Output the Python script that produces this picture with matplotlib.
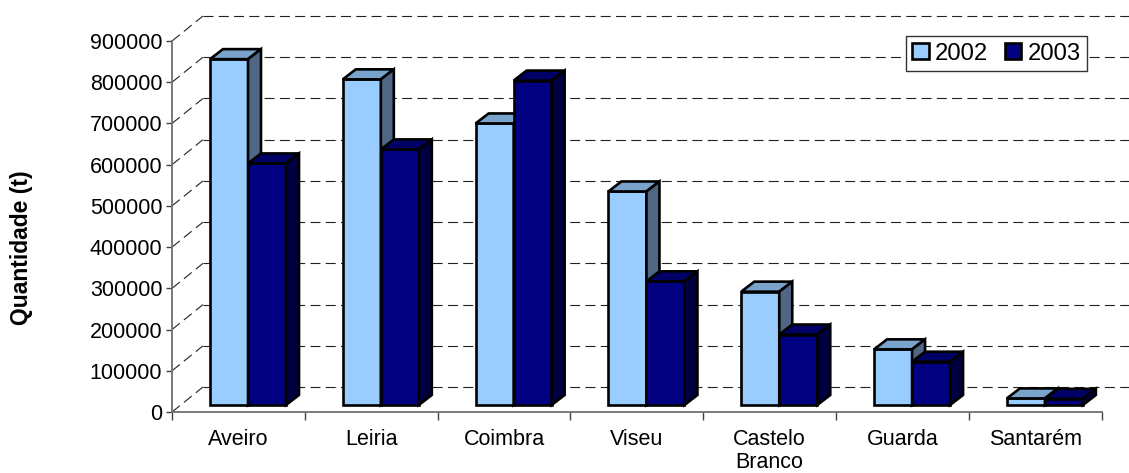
import matplotlib
matplotlib.use("Agg")
import matplotlib.pyplot as plt
from matplotlib.patches import Patch, Polygon

plt.rcParams['font.family'] = ['Liberation Sans', 'DejaVu Sans']
plt.rcParams['lines.scale_dashes'] = False

# values
distritos = ['Aveiro', 'Leiria', 'Coimbra', 'Viseu', 'Castelo\nBranco', 'Guarda', 'Santarém']
q_2002 = [839000, 790000, 683000, 518000, 275000, 135000, 16000]
q_2003 = [586000, 620000, 787000, 300000, 171000, 105000, 15000]
y_ticks = [0, 100000, 200000, 300000, 400000, 500000, 600000, 700000, 800000, 900000]

W, H = 1129, 473
x0, x1 = 172, 1101.7     # y axis / end of x axis, px
y0, y1 = 412, 41         # value 0 / value 900000, px

fig = plt.figure(figsize=(W / 100, H / 100), dpi=100)
ax = fig.add_axes([x0 / W, 1 - y0 / H, (x1 - x0) / W, (y0 - y1) / H])
ax.set_xlim(0, 7)
ax.set_ylim(0, 900000)

# px to data units
px_x = 7 / (x1 - x0)
px_y = 900000 / (y0 - y1)

# back wall of the fake 3d box
wall_dx, wall_dy = 31 * px_x, 25 * px_y
for v in y_ticks:
    ax.plot([wall_dx, 7 + wall_dx], [v + wall_dy, v + wall_dy], color='#222222', lw=0.8,
            ls=(0, (7.2, 3.8)), clip_on=False, zorder=1)
    ax.plot([0, wall_dx], [v, v + wall_dy], color='#222222', lw=0.8,
            ls=(0, (7.2, 3.8)), clip_on=False, zorder=1)

# bars
bar_w = 38 * px_x
depth_x, depth_y = 13 * px_x, 10 * px_y
base_x, base_y = 38 * px_x, 7 * px_y
edge = 1.9


def draw_bar(left, value, front, top, side, z):
    right = left + bar_w
    h = base_y + value
    ax.bar(left, value, width=bar_w, bottom=base_y, align='edge', color=front,
           edgecolor='black', linewidth=edge, zorder=z, clip_on=False)
    ax.add_patch(Polygon([(left, h), (right, h), (right + depth_x, h + depth_y), (left + depth_x, h + depth_y)],
                         facecolor=top, edgecolor='black', linewidth=edge, zorder=z, clip_on=False))
    ax.add_patch(Polygon([(right, base_y), (right + depth_x, base_y + depth_y), (right + depth_x, h + depth_y), (right, h)],
                         facecolor=side, edgecolor='black', linewidth=edge, zorder=z, clip_on=False))


z = 3
for i in range(len(distritos)):
    left = i + base_x
    draw_bar(left, q_2002[i], '#99CCFF', '#7AA3CC', '#4F6685', z)
    draw_bar(left + bar_w, q_2003[i], '#000080', '#000066', '#000040', z + 1)
    z += 2

for s in ['top', 'right']:
    ax.spines[s].set_visible(False)
for s in ['left', 'bottom']:
    ax.spines[s].set_color('#707070')
    ax.spines[s].set_linewidth(1.3)

ax.set_yticks(y_ticks)
ax.set_yticklabels([str(v) for v in y_ticks], fontsize=15.5)
ax.set_xticks(range(8))
ax.set_xticklabels([])
ax.set_xticks([i + 0.5 for i in range(7)], minor=True)
ax.set_xticklabels(distritos, minor=True, fontsize=15.5, linespacing=1.15)
ax.tick_params(axis='y', length=4, width=1, color='#404040', pad=3)
ax.tick_params(axis='x', which='major', length=6, width=1, color='#404040')
ax.tick_params(axis='x', which='minor', length=0, pad=12)

fig.text(22 / W, 1 - 248 / H, 'Quantidade (t)', rotation=90, fontsize=16.5, fontweight='bold',
         ha='center', va='center')

handles = [Patch(facecolor='#99CCFF', edgecolor='black', linewidth=1.9, label='2002'),
           Patch(facecolor='#000080', edgecolor='black', linewidth=1.9, label='2003')]
leg = fig.legend(handles=handles, loc='center', bbox_to_anchor=(996.5 / W, 1 - 53.5 / H), ncol=2,
                 fontsize=17.2, frameon=True, fancybox=False, framealpha=1, edgecolor='#333333',
                 handlelength=0.68, handleheight=0.68, handletextpad=0.25, columnspacing=0.72,
                 borderpad=0.28, borderaxespad=0)
leg.get_frame().set_linewidth(1)
leg.set_zorder(50)

fig.savefig('out.png', dpi=100)
